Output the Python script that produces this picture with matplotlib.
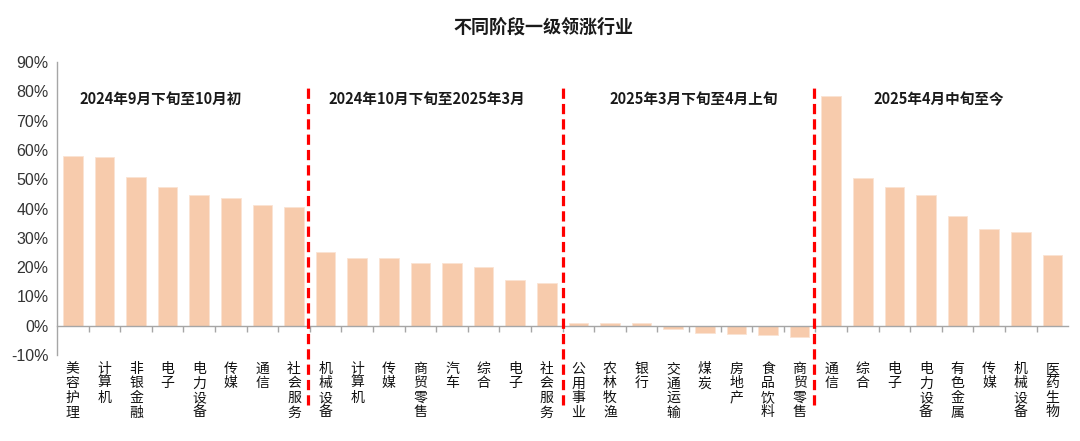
import matplotlib
matplotlib.use("Agg")
import matplotlib.pyplot as plt
import matplotlib.transforms as mtransforms
from matplotlib.ticker import FuncFormatter, FixedLocator

plt.rcParams['font.family'] = ['Noto Sans CJK SC', 'DejaVu Sans']

title = "不同阶段一级领涨行业"
period_labels = ["2024年9月下旬至10月初", "2024年10月下旬至2025年3月",
                 "2025年3月下旬至4月上旬", "2025年4月中旬至今"]

industries_p1 = ["美容护理", "计算机", "非银金融", "电子", "电力设备", "传媒", "通信", "社会服务"]
values_p1 = [57.8, 57.5, 50.9, 47.3, 44.8, 43.5, 41.2, 40.6]

industries_p2 = ["机械设备", "计算机", "传媒", "商贸零售", "汽车", "综合", "电子", "社会服务"]
values_p2 = [25.1, 23.2, 23.2, 21.5, 21.4, 20.2, 15.5, 14.6]

industries_p3 = ["公用事业", "农林牧渔", "银行", "交通运输", "煤炭", "房地产", "食品饮料", "商贸零售"]
values_p3 = [1.1, 1.1, 1.1, -1.1, -2.5, -2.7, -3.3, -3.7]

industries_p4 = ["通信", "综合", "电子", "电力设备", "有色金属", "传媒", "机械设备", "医药生物"]
values_p4 = [78.6, 50.3, 47.5, 44.8, 37.5, 33.0, 32.0, 24.2]

y_ticks = [-10, 0, 10, 20, 30, 40, 50, 60, 70, 80, 90]

groups = [(industries_p1, values_p1), (industries_p2, values_p2),
          (industries_p3, values_p3), (industries_p4, values_p4)]

labels = []
values = []
for inds, vals in groups:
    labels.extend(inds)
    values.extend(vals)
n = len(values)
xs = list(range(n))

fig = plt.figure(figsize=(10.8, 4.41), dpi=100)
ax = fig.add_axes([0.0528, 0.195, 0.989 - 0.0528, 0.859 - 0.195])

bar_color = "#F7CBAC"
ax.bar(xs, values, width=0.62, color=bar_color, edgecolor="#FBE3D3", linewidth=0.6, zorder=2)

ax.set_xlim(-0.5, n - 0.5)
ax.set_ylim(-10, 90)
ax.yaxis.set_major_locator(FixedLocator(y_ticks))
ax.yaxis.set_major_formatter(FuncFormatter(lambda v, p: f"{v:.0f}%"))
ax.tick_params(axis='y', length=0, pad=6, labelsize=11.5, labelcolor="#333333")
for t in ax.get_yticklabels():
    t.set_fontfamily(['Liberation Sans', 'DejaVu Sans'])

# x axis at zero
ax.spines['top'].set_visible(False)
ax.spines['right'].set_visible(False)
ax.spines['bottom'].set_position(('data', 0))
ax.spines['bottom'].set_color("#A6A6A6")
ax.spines['bottom'].set_linewidth(1.0)
ax.spines['left'].set_color("#A6A6A6")
ax.spines['left'].set_linewidth(1.0)

ax.set_xticks(xs)
ax.set_xticklabels(["\n".join(l) for l in labels], linespacing=1.05)
ax.tick_params(axis='x', which='major', length=0, pad=26, labelsize=10, labelcolor="#111111")
ax.set_xticks([i + 0.5 for i in range(n - 1)], minor=True)
ax.tick_params(axis='x', which='minor', length=4, width=1.0, color="#A6A6A6", direction='out')
for t in ax.get_xticklabels():
    t.set_va('top')

# dashed separators
trans = mtransforms.blended_transform_factory(ax.transData, ax.transAxes)
for b in [7.45, 15.52, 23.46]:
    ax.plot([b, b], [-0.17, 0.93], transform=trans, color="#FF0000", lw=2.3,
            linestyle=(0, (3.2, 1.6)), clip_on=False, zorder=3)

# period labels
label_x = [2.78, 11.2, 19.65, 27.4]
for lx, txt in zip(label_x, period_labels):
    ax.text(lx, 77.5, txt, ha='center', va='center', fontsize=10.5,
            fontweight='bold', color="#1a1a1a", zorder=4)

fig.text(0.503, 0.938, title, ha='center', va='center', fontsize=13,
         fontweight='bold', color="#1a1a1a")

fig.savefig("out.png", dpi=100, facecolor="white")
